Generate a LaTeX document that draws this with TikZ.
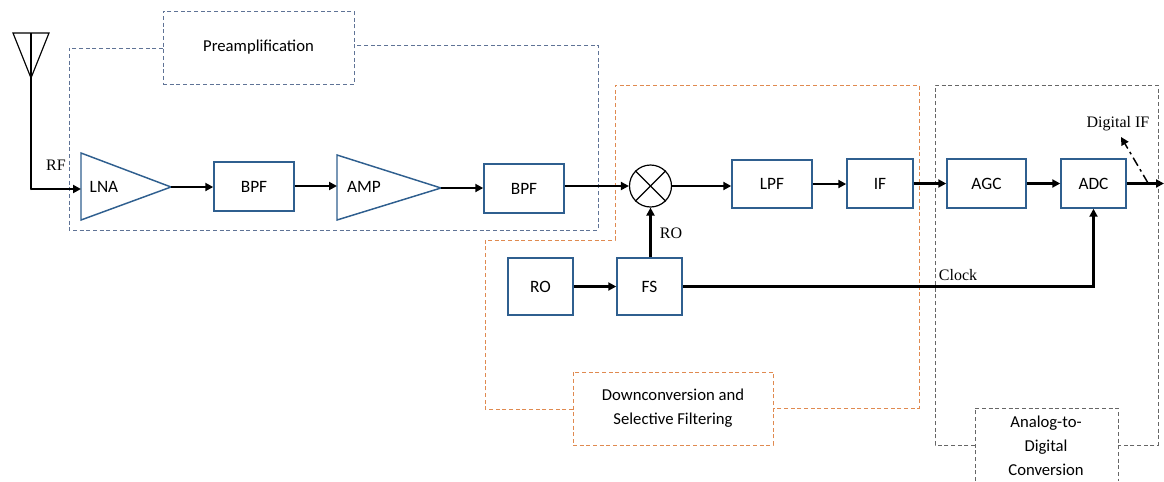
\documentclass[tikz,border=0pt]{standalone}
\usepackage{fontspec}
\setmainfont{Carlito}
\newfontfamily\serifl{Liberation Serif}
\usetikzlibrary{arrows.meta,calc}
\definecolor{boxblue}{HTML}{2F5F8F}
\definecolor{dashblue}{HTML}{5F7396}
\definecolor{dashorange}{HTML}{E08A50}
\definecolor{dashgray}{HTML}{666666}
\tikzset{
  x=0.75pt,y=-0.75pt,
  block/.style={draw=boxblue,line width=1.1pt,inner sep=0pt,font=\fontsize{13}{15}\selectfont},
  ampshape/.style={draw=boxblue,line width=1.1pt},
  lab/.style={inner sep=0pt,font=\fontsize{13}{15}\selectfont},
  sig/.style={line width=1.8pt,-{Triangle[length=6pt,width=6pt]}},
  plainline/.style={line width=1.8pt},
  dashln/.style={line width=0.6pt,dash pattern=on 3pt off 2pt},
  caption/.style={dashln,inner sep=0pt,align=center,font=\fontsize{12.5}{18}\selectfont},
  seriflab/.style={inner sep=0pt,font=\serifl\fontsize{12}{14}\selectfont},
}
\newcommand{\blocknode}[5]{\node[block,minimum width=#3*0.75pt,minimum height=#4*0.75pt] (#1) at (#2) {#5};}
\begin{document}
\begin{tikzpicture}
\useasboundingbox (0,0) rectangle (1164,482);
% dashed groups
\draw[dashln,draw=dashblue] (163,48) -- (69,48) -- (69,230) -- (598,230) -- (598,45) -- (354,45);
\draw[dashln,draw=dashorange] (573,409) -- (485,409) -- (485,240) -- (615,240) -- (615,85) -- (919,85) -- (919,408) -- (773,408);
\draw[dashln,draw=dashgray] (975,445) -- (935,445) -- (935,85) -- (1158,85) -- (1158,445) -- (1118,445);
\node[caption,draw=dashblue,minimum width=143.25pt,minimum height=54.75pt] (pre) at (258.5,47.5) {Preamplification};
\node[caption,draw=dashorange,minimum width=150pt,minimum height=54.75pt] (down) at (673,408.5) {Downconversion and\\Selective Filtering};
\draw[dashln,draw=dashgray] (975,481) -- (975,408) -- (1118,408) -- (1118,481);
\node[inner sep=0pt,align=center,font=\fontsize{12.5}{18}\selectfont] (adcc) at (1046,446) {Analog-to-\\Digital\\Conversion};
% antenna
\coordinate (anttop) at (31,33);
\coordinate (antbase) at (31,78);
\coordinate (antbend) at (31,189);
\draw[line width=0.9pt] (13,33) -- (49,33) -- (antbase) -- cycle;
\draw[line width=0.9pt] (anttop) -- (antbase);
% amplifiers
\coordinate (lnain) at (81,189);
\coordinate (lnatip) at (171,187);
\coordinate (ampin) at (337,186);
\coordinate (amptip) at (441,188);
\draw[ampshape] (81,153) -- (lnatip) -- (81,220) -- cycle;
\draw[ampshape] (337,155) -- (amptip) -- (337,220) -- cycle;
\node[lab] (lna) at (104,187) {LNA};
\node[lab] (ampl) at (364,187) {AMP};
% blocks
\blocknode{bpfa}{254,186.5}{80}{49}{BPF}
\blocknode{bpfb}{524,188.5}{80}{49}{BPF}
\blocknode{lpf}{772,184}{80}{48}{LPF}
\blocknode{ifb}{880,183.5}{66}{49}{IF}
\blocknode{agc}{986.5,183.5}{79}{49}{AGC}
\blocknode{adc}{1093.5,183.5}{65}{49}{ADC}
\blocknode{ro}{540.5,286.5}{65}{57}{RO}
\blocknode{fs}{649.5,286.5}{65}{57}{FS}
% mixer
\node[circle,draw=black,line width=0.9pt,minimum size=31.5pt,inner sep=0pt] (mix) at (650.5,186) {};
\draw[line width=0.9pt] (mix.north west) -- (mix.south east);
\draw[line width=0.9pt] (mix.north east) -- (mix.south west);
% connectors
\draw[plainline,line cap=round] (antbase) -- (antbend);
\draw[sig] (antbend) -- (lnain);
\draw[sig] (lnatip) -- (bpfa.west |- lnatip);
\draw[sig] (bpfa.east |- ampin) -- (ampin);
\draw[sig] (amptip) -- (bpfb.west |- amptip);
\draw[sig] (bpfb.east |- mix.west) -- (mix.west);
\draw[sig] (mix.east) -- (lpf.west |- mix.east);
\draw[sig] (lpf.east) -- (ifb.west |- lpf.east);
\draw[sig] (ifb.east) -- (agc.west);
\draw[sig] (agc.east) -- (adc.west);
\coordinate (outend) at (1164,183.5);
\draw[sig] (adc.east) -- (outend);
\draw[sig] (ro.east) -- (fs.west);
\draw[sig] (fs.north -| mix.south) -- (mix.south);
\draw[sig] (fs.east) -| (adc.south);
\coordinate (dtap) at (1148,183);
\coordinate (dtip) at (1121,137);
\draw[line width=1.1pt,dash pattern=on 7pt off 3pt on 2pt off 3pt,-{Triangle[length=6pt,width=6pt]}] (dtap) -- (dtip);
% labels
\node[seriflab] (rf) at (56,165.5) {RF};
\node[seriflab] (rolab) at (671,233) {RO};
\node[seriflab] (clock) at (958,275) {Clock};
\node[seriflab] (dif) at (1118,124) {Digital IF};
\end{tikzpicture}
\end{document}
